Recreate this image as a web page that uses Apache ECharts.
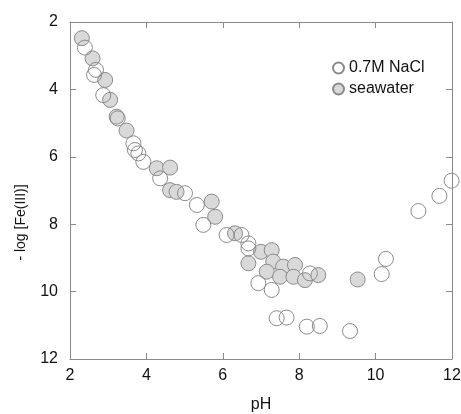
<!DOCTYPE html>
<html><head><meta charset="utf-8">
<script src="https://cdn.jsdelivr.net/npm/echarts@6/dist/echarts.min.js"></script>
<style>html,body{margin:0;padding:0;background:#fff}#c{width:461px;height:414px}</style>
</head><body><div id="c"></div>
<script>
var seriesNames = ['0.7M NaCl', 'seawater'];
var xTicks = [2, 4, 6, 8, 10, 12];
var yTicks = [2, 4, 6, 8, 10, 12];
var naclPH = [2.39, 2.63, 2.68, 2.87, 3.25, 3.66, 3.70, 3.79, 3.92, 4.36, 5.01, 5.32, 5.49, 6.10, 6.49, 6.67, 6.67, 6.93, 7.28, 7.41, 7.67, 8.20, 8.54, 9.33, 8.28, 10.16, 10.27, 11.12, 11.67, 11.99];
var naclLog = [2.76, 3.57, 3.42, 4.17, 4.86, 5.60, 5.80, 5.90, 6.15, 6.64, 7.08, 7.43, 8.02, 8.32, 8.32, 8.57, 8.72, 9.75, 9.95, 10.79, 10.77, 11.04, 11.02, 11.17, 9.46, 9.48, 9.03, 7.61, 7.16, 6.71];
var swPH = [2.31, 2.59, 2.92, 3.05, 3.22, 3.48, 4.27, 4.62, 4.62, 4.79, 5.71, 5.80, 6.32, 6.67, 7.00, 7.28, 7.32, 7.15, 7.58, 7.89, 7.50, 7.85, 8.15, 8.50, 9.53];
var swLog = [2.48, 3.08, 3.72, 4.31, 4.81, 5.22, 6.34, 6.32, 6.99, 7.04, 7.33, 7.78, 8.27, 9.16, 8.82, 8.77, 9.11, 9.41, 9.26, 9.21, 9.56, 9.56, 9.66, 9.51, 9.64];

function pairs(a, b) { return a.map(function (v, i) { return [v, b[i]]; }); }

var axisCol = '#8a8a8a';
var ff = 'Liberation Sans, Arial, sans-serif';
var lbl = { color: '#111', fontSize: 16, fontFamily: ff };
var chart = echarts.init(document.getElementById('c'), null, { renderer: 'canvas' });
chart.setOption({
  animation: false,
  grid: { left: 70, right: 9, top: 22, bottom: 55, outerBoundsMode: 'none', containLabel: false },
  legend: {
    orient: 'vertical', left: 327, top: 55, itemGap: 5,
    itemWidth: 11, itemHeight: 11,
    textStyle: { color: '#111', fontSize: 16, fontFamily: ff },
    data: [{ name: seriesNames[0], icon: 'circle' }, { name: seriesNames[1], icon: 'circle' }]
  },
  xAxis: [{
    type: 'value', min: xTicks[0], max: xTicks[xTicks.length - 1], interval: 2,
    name: 'pH', nameLocation: 'middle', nameGap: 38,
    nameTextStyle: { color: '#111', fontSize: 16, fontFamily: ff },
    axisLine: { lineStyle: { color: axisCol } },
    axisTick: { inside: true, length: 6, lineStyle: { color: axisCol } },
    axisLabel: Object.assign({ margin: 9 }, lbl),
    splitLine: { show: false }
  }, {
    type: 'value', position: 'top', min: 2, max: 12, interval: 2,
    axisLine: { show: true, lineStyle: { color: axisCol } },
    axisTick: { inside: true, length: 6, lineStyle: { color: axisCol } },
    axisLabel: { show: false }, splitLine: { show: false }
  }],
  yAxis: [{
    type: 'value', inverse: true, min: yTicks[0], max: yTicks[yTicks.length - 1], interval: 2,
    name: '- log [Fe(III)]', nameLocation: 'middle', nameGap: 42,
    nameTextStyle: { color: '#111', fontSize: 14, fontFamily: ff, padding: [0, 64, 0, 0] },
    axisLine: { lineStyle: { color: axisCol } },
    axisTick: { inside: true, length: 6, lineStyle: { color: axisCol } },
    axisLabel: Object.assign({ margin: 12 }, lbl),
    splitLine: { show: false }
  }, {
    type: 'value', position: 'right', inverse: true, min: 2, max: 12, interval: 2,
    axisLine: { show: true, lineStyle: { color: axisCol } },
    axisTick: { inside: true, length: 6, lineStyle: { color: axisCol } },
    axisLabel: { show: false }, splitLine: { show: false }
  }],
  series: [{
    name: seriesNames[1], type: 'scatter', symbol: 'circle', symbolSize: 15, z: 2,
    itemStyle: { color: '#d9d9d9', borderColor: '#8a8a8a', borderWidth: 1, opacity: 1 },
    data: pairs(swPH, swLog)
  }, {
    name: seriesNames[0], type: 'scatter', symbol: 'circle', symbolSize: 15, z: 3,
    itemStyle: { color: 'rgba(255,255,255,0)', borderColor: '#8a8a8a', borderWidth: 1, opacity: 1 },
    data: pairs(naclPH, naclLog)
  }]
});
</script></body></html>
